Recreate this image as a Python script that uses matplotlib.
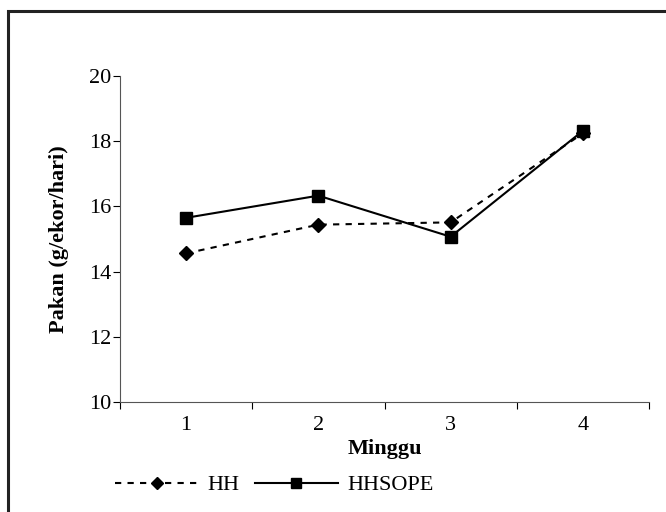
import numpy as np
import matplotlib.pyplot as plt
from matplotlib.patches import Rectangle

# data
weeks = ['1', '2', '3', '4']
hh = [14.56, 15.44, 15.51, 18.24]
hhsope = [15.65, 16.33, 15.07, 18.32]

plt.rcParams['font.family'] = 'Liberation Serif'
fs = 16

fig = plt.figure(figsize=(6.66, 5.12), dpi=100)
ax = fig.add_axes([120 / 666, 1 - 402 / 512, 529 / 666, 326 / 512])

x = np.arange(len(weeks))
ax.plot(x, hh, color='black', linestyle=(0, (3, 3)), linewidth=1.5,
        marker='D', markersize=7.5, label='HH')
ax.plot(x, hhsope, color='black', linestyle='-', linewidth=1.5,
        marker='s', markersize=9, label='HHSOPE')

ax.set_xlim(-0.5, 3.5)
ax.set_ylim(10, 20)
ax.set_yticks(np.arange(10, 21, 2))
ax.set_xticks(np.arange(-0.5, 4, 1))
ax.set_xticklabels([])
ax.set_xticks(x, minor=True)
ax.set_xticklabels(weeks, minor=True)
ax.tick_params(axis='x', which='minor', length=0, pad=10, labelsize=fs)
ax.tick_params(axis='x', which='major', length=5, direction='out')
ax.tick_params(axis='y', length=5, direction='out', labelsize=fs, pad=1)

for s in ['top', 'right']:
    ax.spines[s].set_visible(False)
for s in ['left', 'bottom']:
    ax.spines[s].set_color('#555555')

ax.set_xlabel('Minggu', fontsize=fs, fontweight='bold', labelpad=3)
ax.set_ylabel('Pakan (g/ekor/hari)', fontsize=fs, fontweight='bold', labelpad=15)

fig.legend(loc='center left', bbox_to_anchor=(115 / 666, 1 - 485 / 512), ncol=2,
           frameon=False, fontsize=fs, handlelength=3.75, handletextpad=0.4,
           columnspacing=0.7, borderpad=0, borderaxespad=0, markerscale=0.8)

# outer frame (partly cut off at right and bottom)
fig.patches.append(Rectangle((8 / 666, -0.1), 1.2, 1 - 11 / 512 + 0.1,
                             transform=fig.transFigure, fill=False,
                             edgecolor='#222222', linewidth=2.2))

fig.savefig('out.png', dpi=100)
